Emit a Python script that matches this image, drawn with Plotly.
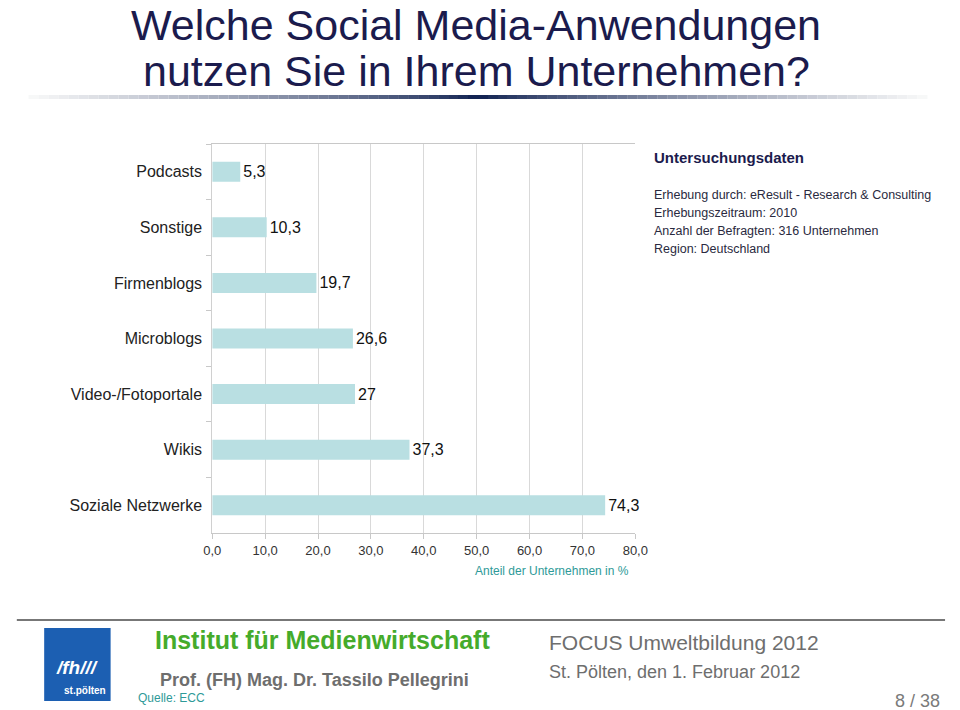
import plotly.graph_objects as go

# ---- data ----
categories = ["Podcasts", "Sonstige", "Firmenblogs", "Microblogs",
              "Video-/Fotoportale", "Wikis", "Soziale Netzwerke"]
values = [5.3, 10.3, 19.7, 26.6, 27, 37.3, 74.3]
x_tickvals = [0, 10, 20, 30, 40, 50, 60, 70, 80]
x_ticktext = ["0,0", "10,0", "20,0", "30,0", "40,0", "50,0", "60,0", "70,0", "80,0"]
labels = [f"{v:g}".replace(".", ",") for v in values]

W, H = 960, 710
FONT = "Liberation Sans, Arial, Helvetica, sans-serif"
NAVY = "#1b1b4d"


def px(x):
    return x / W


def py(y):
    return 1 - y / H


fig = go.Figure()
fig.add_trace(go.Bar(
    y=categories, x=values, orientation="h",
    marker=dict(color="#b9dfe2", line=dict(width=0)),
    width=0.36,
    text=labels, textposition="outside", cliponaxis=False,
    textfont=dict(size=16, color="#111111", family=FONT),
    hoverinfo="skip",
))

annotations = []
shapes = []

# Title
annotations.append(dict(text="Welche Social Media-Anwendungen", x=px(478), y=py(25),
                        xref="paper", yref="paper", showarrow=False,
                        xanchor="center", yanchor="middle",
                        font=dict(size=43, color=NAVY, family=FONT)))
annotations.append(dict(text="nutzen Sie in Ihrem Unternehmen?", x=px(478), y=py(71),
                        xref="paper", yref="paper", showarrow=False,
                        xanchor="center", yanchor="middle",
                        font=dict(size=43, color=NAVY, family=FONT)))

# Gradient rule under title (decoration)
n = 90
x0, x1 = 20, 940
for i in range(n):
    xa = x0 + (x1 - x0) * i / n
    xb = x0 + (x1 - x0) * (i + 1) / n
    t = abs(((xa + xb) / 2 - 480) / 460)
    t = min(1, t) ** 0.8
    c0 = (13, 31, 79)
    c1 = (250, 250, 250)
    col = tuple(int(c0[k] + (c1[k] - c0[k]) * t) for k in range(3))
    shapes.append(dict(type="line", xref="paper", yref="paper",
                       x0=px(xa), x1=px(xb), y0=py(97), y1=py(97),
                       line=dict(color=f"rgb{col}", width=4)))

# Info box
annotations.append(dict(text="<b>Untersuchungsdaten</b>", x=px(658), y=py(157),
                        xref="paper", yref="paper", showarrow=False,
                        xanchor="left", yanchor="middle",
                        font=dict(size=15, color=NAVY, family=FONT)))
info_lines = ["Erhebung durch: eResult - Research & Consulting",
              "Erhebungszeitraum: 2010",
              "Anzahl der Befragten: 316 Unternehmen",
              "Region: Deutschland"]
for i, line in enumerate(info_lines):
    annotations.append(dict(text=line, x=px(658), y=py(195 + 18 * i),
                            xref="paper", yref="paper", showarrow=False,
                            xanchor="left", yanchor="middle",
                            font=dict(size=12.5, color="#2a2a40", family=FONT)))

# Axis title
annotations.append(dict(text="Anteil der Unternehmen in %", x=px(637), y=py(571),
                        xref="paper", yref="paper", showarrow=False,
                        xanchor="right", yanchor="middle",
                        font=dict(size=12, color="#2e9a98", family=FONT)))

# Footer
shapes.append(dict(type="line", xref="paper", yref="paper",
                   x0=px(8), x1=px(958), y0=py(620), y1=py(620),
                   line=dict(color="#777777", width=2)))
shapes.append(dict(type="rect", xref="paper", yref="paper",
                   x0=px(36), x1=px(104), y0=py(701), y1=py(628),
                   fillcolor="#1c5fb2", line=dict(width=0)))
annotations.append(dict(text="<b><i>/fh///</i></b>", x=px(70), y=py(667),
                        xref="paper", yref="paper", showarrow=False,
                        xanchor="center", yanchor="middle",
                        font=dict(size=19, color="white", family=FONT)))
annotations.append(dict(text="<b>st.pölten</b>", x=px(101), y=py(690),
                        xref="paper", yref="paper", showarrow=False,
                        xanchor="right", yanchor="middle",
                        font=dict(size=10, color="white", family=FONT)))
annotations.append(dict(text="<b>Institut für Medienwirtschaft</b>", x=px(147), y=py(640),
                        xref="paper", yref="paper", showarrow=False,
                        xanchor="left", yanchor="middle",
                        font=dict(size=25, color="#45ab2b", family=FONT)))
annotations.append(dict(text="<b>Prof. (FH) Mag. Dr. Tassilo Pellegrini</b>", x=px(152), y=py(680),
                        xref="paper", yref="paper", showarrow=False,
                        xanchor="left", yanchor="middle",
                        font=dict(size=18, color="#6e6e6e", family=FONT)))
annotations.append(dict(text="Quelle: ECC", x=px(130), y=py(698),
                        xref="paper", yref="paper", showarrow=False,
                        xanchor="left", yanchor="middle",
                        font=dict(size=12, color="#2e9a98", family=FONT)))
annotations.append(dict(text="FOCUS Umweltbildung 2012", x=px(551), y=py(642),
                        xref="paper", yref="paper", showarrow=False,
                        xanchor="left", yanchor="middle",
                        font=dict(size=21, color="#6e6e6e", family=FONT)))
annotations.append(dict(text="St. Pölten, den 1. Februar 2012", x=px(551), y=py(672),
                        xref="paper", yref="paper", showarrow=False,
                        xanchor="left", yanchor="middle",
                        font=dict(size=18, color="#6e6e6e", family=FONT)))
annotations.append(dict(text="8 / 38", x=px(955), y=py(701),
                        xref="paper", yref="paper", showarrow=False,
                        xanchor="right", yanchor="middle",
                        font=dict(size=18, color="#7a7a7a", family=FONT)))

fig.update_layout(
    width=W, height=H,
    margin=dict(l=0, r=0, t=0, b=0),
    paper_bgcolor="white", plot_bgcolor="white",
    showlegend=False,
    font=dict(family=FONT),
    annotations=annotations,
    shapes=shapes,
    xaxis=dict(
        domain=[px(208), px(641)], range=[0, 80],
        tickvals=x_tickvals, ticktext=x_ticktext,
        tickfont=dict(size=13, color="#333333", family=FONT),
        showgrid=True, gridcolor="#d9d9d9", gridwidth=1,
        showline=True, linecolor="#c8c8c8", linewidth=1, mirror=True,
        ticks="outside", ticklen=5, tickcolor="#c8c8c8",
        zeroline=False, fixedrange=True,
    ),
    yaxis=dict(
        domain=[py(533), py(144)],
        categoryorder="array", categoryarray=categories,
        autorange="reversed",
        tickfont=dict(size=16, color="#222222", family=FONT),
        showgrid=False,
        showline=True, linecolor="#d0d0d0", linewidth=1,
        ticks="outside", ticklen=5, tickcolor="#c8c8c8",
        tickson="boundaries", ticklabelstandoff=6,
        fixedrange=True,
    ),
)

post = (
    "document.documentElement.style.margin='0';"
    "document.body.style.margin='0';document.body.style.padding='0';"
    "document.body.style.overflow='hidden';"
    "var gd=document.getElementById('{plot_id}');"
    "gd.style.width='960px';gd.style.height='710px';"
    "Plotly.relayout(gd,{width:960,height:710});"
)

fig.write_html(
    "out.html",
    config={"displayModeBar": False, "responsive": False},
    post_script=post,
)
